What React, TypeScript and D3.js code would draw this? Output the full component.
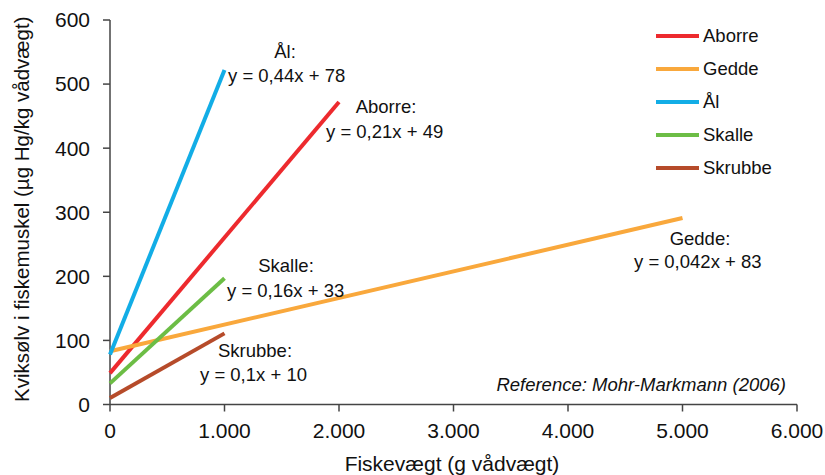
import React from 'react';
import * as d3 from 'd3';

const species = ['Aborre', 'Gedde', 'Ål', 'Skalle', 'Skrubbe'];
const colors = ['#ed2a2e', '#f9a83c', '#12ade6', '#6cbd45', '#b64b2a'];
const xStart = [0, 0, 0, 0, 0];
const xEnd = [2000, 5000, 1000, 1000, 1000];
const yStart = [49, 83, 78, 33, 10];
const yEnd = [472, 291, 522, 197, 111];
const equations = ['y = 0,21x + 49', 'y = 0,042x + 83', 'y = 0,44x + 78', 'y = 0,16x + 33', 'y = 0,1x + 10'];
const xTicks = [0, 1000, 2000, 3000, 4000, 5000, 6000];
const yTicks = [0, 100, 200, 300, 400, 500, 600];

// annotation anchors (label line, equation line) in pixels
const labelPos = [
  { lx: 386, ly: 113, ex: 326, ey: 138 },
  { lx: 700, ly: 245, ex: 634, ey: 268 },
  { lx: 285, ly: 58, ex: 228, ey: 82 },
  { lx: 286, ly: 272, ex: 227, ey: 297 },
  { lx: 255, ly: 357, ex: 200, ey: 381 },
];

const font = 'Liberation Sans, Arial, sans-serif';
const axisColor = '#444';

export default function App() {
  const x = d3.scaleLinear().domain([0, 6000]).range([110, 797]);
  const y = d3.scaleLinear().domain([0, 600]).range([404.5, 20]);
  const fmt = (v: number) => (v === 0 ? '0' : d3.format(',')(v).replace(/,/g, '.'));
  const line = d3.line<[number, number]>().x(d => x(d[0])).y(d => y(d[1]));

  return (
    <svg width={825} height={475} style={{ position: 'absolute', left: 0, top: 0, background: '#fff' }} fontFamily={font}>
      {/* axes */}
      <line x1={x(0)} x2={x(0)} y1={y(600)} y2={y(0)} stroke={axisColor} strokeWidth={1.5} />
      <line x1={x(0)} x2={x(6000)} y1={y(0)} y2={y(0)} stroke={axisColor} strokeWidth={1.5} />
      {yTicks.map(t => (
        <g key={'y' + t}>
          <line x1={x(0) - 7} x2={x(0)} y1={y(t)} y2={y(t)} stroke={axisColor} strokeWidth={1.5} />
          <text x={x(0) - 20} y={y(t)} dy="0.35em" textAnchor="end" fontSize={21} fill="#111">{t}</text>
        </g>
      ))}
      {xTicks.map(t => (
        <g key={'x' + t}>
          <line x1={x(t)} x2={x(t)} y1={y(0)} y2={y(0) + 7} stroke={axisColor} strokeWidth={1.5} />
          <text x={x(t)} y={438} textAnchor="middle" fontSize={21} fill="#111">{fmt(t)}</text>
        </g>
      ))}
      <text x={452} y={471} textAnchor="middle" fontSize={21} fill="#111">Fiskevægt (g vådvægt)</text>
      <text transform={`translate(29, ${y(300) - 3}) rotate(-90)`} textAnchor="middle" fontSize={20.5} fill="#111">
        Kviksølv i fiskemuskel (µg Hg/kg vådvægt)
      </text>

      {/* regression lines */}
      {species.map((s, i) => (
        <path key={s} d={line([[xStart[i], yStart[i]], [xEnd[i], yEnd[i]]]) || ''} stroke={colors[i]} strokeWidth={4} fill="none" />
      ))}

      {/* annotations */}
      {species.map((s, i) => (
        <g key={'a' + s} fontSize={18.5} fill="#111">
          <text x={labelPos[i].lx} y={labelPos[i].ly} textAnchor="middle">{s}:</text>
          <text x={labelPos[i].ex} y={labelPos[i].ey}>{equations[i]}</text>
        </g>
      ))}

      <text x={786} y={391} textAnchor="end" fontSize={18.5} fontStyle="italic" fill="#111">
        Reference: Mohr-Markmann (2006)
      </text>

      {/* legend */}
      {species.map((s, i) => (
        <g key={'l' + s} transform={`translate(656, ${36 + i * 33})`}>
          <line x1={0} x2={43} y1={0} y2={0} stroke={colors[i]} strokeWidth={4} />
          <text x={47} y={0} dy="0.35em" fontSize={18.5} fill="#111">{s}</text>
        </g>
      ))}
    </svg>
  );
}
